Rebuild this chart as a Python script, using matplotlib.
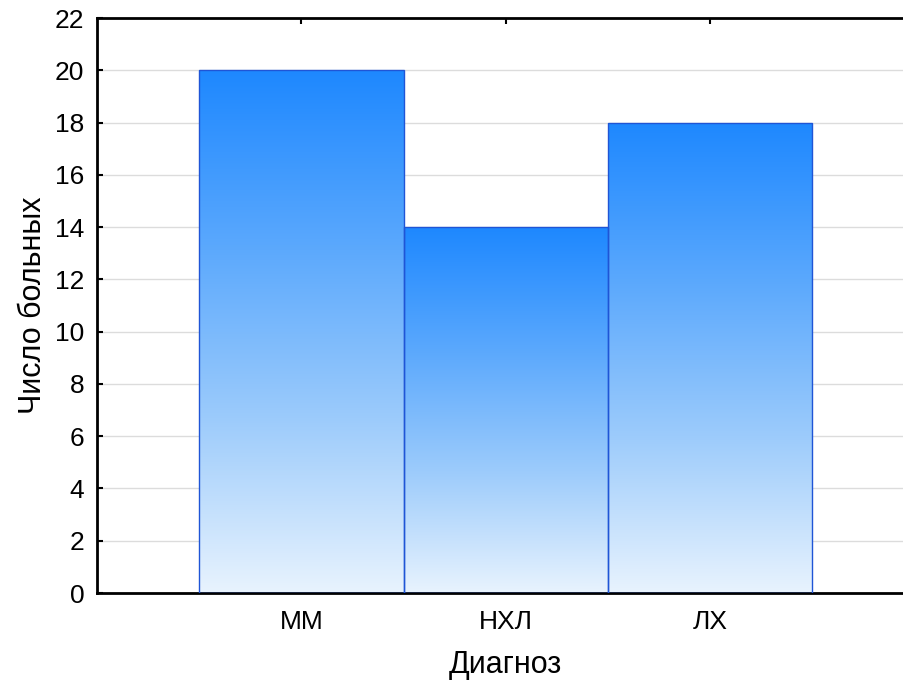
import matplotlib.pyplot as plt
import numpy as np
from matplotlib.colors import LinearSegmentedColormap

diagnoses = ["ММ", "НХЛ", "ЛХ"]
patients = [20, 14, 18]
y_ticks = list(range(0, 23, 2))

plt.rcParams['font.family'] = ['Liberation Sans', 'DejaVu Sans']

fig = plt.figure(figsize=(9.04, 6.81), dpi=100)
ax = fig.add_axes([0.1073, 0.1292, 0.9043, 0.8443])

# Градиент заливки столбцов: светлый снизу, насыщенный синий сверху
grad_cmap = LinearSegmentedColormap.from_list(
    "bar_grad", ["#e8f3fe", "#9ccbfb", "#5aa8fd", "#1e88ff"])
gradient = np.linspace(0, 1, 256).reshape(-1, 1)

x = np.arange(len(diagnoses))
bars = ax.bar(x, patients, width=1.0, facecolor="none",
              edgecolor="#1f55d6", linewidth=1.0, zorder=3)

for bar in bars:
    x0 = bar.get_x()
    w = bar.get_width()
    h = bar.get_height()
    im = ax.imshow(gradient, cmap=grad_cmap, origin="lower", aspect="auto",
                   extent=[x0, x0 + w, 0, h], zorder=2, interpolation="bilinear")
    im.set_clip_path(bar)

ax.set_xlim(-1, 3)
ax.set_ylim(0, 22)
ax.set_xticks(x)
ax.set_xticklabels(diagnoses)
ax.set_yticks(y_ticks)

ax.yaxis.grid(True, color="#dcdcdc", linewidth=1.0, zorder=0)
ax.set_axisbelow(True)

ax.tick_params(axis="x", direction="in", top=True, length=4, width=1.5,
               labelsize=19, pad=12, color="black")
ax.tick_params(axis="y", direction="in", length=4, width=1.5,
               labelsize=19, pad=9, color="black")

for side in ["left", "bottom", "top"]:
    ax.spines[side].set_linewidth(2)
    ax.spines[side].set_color("black")
ax.spines["right"].set_visible(False)

ax.set_xlabel("Диагноз", fontsize=22, labelpad=12)
ax.set_ylabel("Число больных", fontsize=22, labelpad=5)

fig.savefig("out.png", dpi=100)
